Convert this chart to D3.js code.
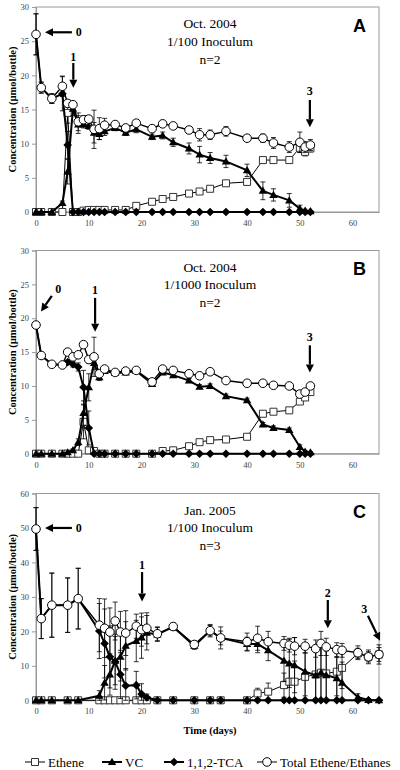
<!DOCTYPE html>
<html><head><meta charset="utf-8">
<script src="https://cdn.jsdelivr.net/npm/d3@7"></script>
<style>body{margin:0;background:#fff}svg{display:block}</style>
</head><body>
<script>
// ---------- DATA ----------
const xTicks = [0,10,20,30,40,50,60];
const yTicksAB = [0,5,10,15,20,25,30];
const yTicksC = [0,10,20,30,40,50,60];

const daysAB = [0,1,3,5,6,7,8,9,10,11,12,13,15,17,19,22,24,26,29,31,33,36,40,43,45,48,50,51,52];

const etheneA = [0,0,0,0,14.5,0,0,0.2,0.3,0.3,0.3,0.3,0.3,0.3,0.9,1.5,1.9,2.2,2.7,3.0,3.4,4.2,4.4,7.6,7.6,7.6,9.4,8.8,9.3];
const etheneErrA = [0,0,0,0,1.5,0,0,0,0,0,0,0,0,0,0.2,0.2,0.2,0.3,0.3,0.3,0.3,0.3,0.4,0.3,0.3,0.3,0.7,0.6,0.5];
const vcA = [0,0,0,1.3,5.9,15.1,12.8,12.8,12.6,11.6,11.4,11.8,12.3,11.6,12.1,11.0,11.2,10.2,9.3,8.4,7.9,7.4,6.1,3.1,2.5,1.7,0.5,0.2,0.1];
const vcErrA = [0,0,0,0.3,1.8,1.0,1.3,0.5,0.5,1.5,0.8,0.6,0.4,0.4,0.5,0.4,0.5,0.6,0.8,1.2,0.8,0.9,0.9,1.3,0.9,1.0,0.5,0.2,0.1];
const tcaA = [26.0,18.2,16.6,17.3,9.8,0,0,0,0,0,0,0,0,0,0,0,0,0,0,0,0,0,0,0,0,0,0,0,0];
const tcaErrA = [3.0,0.8,0.7,2.5,2.0,0,0,0,0,0,0,0,0,0,0,0,0,0,0,0,0,0,0,0,0,0,0,0,0];
const totalA = [26.0,18.2,16.6,18.4,15.9,15.7,13.2,13.5,13.6,12.1,12.2,12.7,12.8,12.3,13.0,12.2,12.9,12.6,12.0,11.3,11.3,11.8,10.8,10.8,10.1,9.5,10.2,9.5,9.8];
const totalErrA = [3.0,0.8,0.7,1.5,0.5,0.4,1.3,0.6,0.5,2.8,1.6,1.0,0.4,0.5,0.5,0.4,0.5,0.4,0.5,0.9,0.7,0.7,0.4,0.6,0.8,0.8,1.5,0.8,0.8];

const etheneB = [0,0,0,0,0,0,0,4.7,0.5,0.4,0,0,0,0,0,0,0.4,0.5,1.1,1.7,2.0,2.1,2.5,5.9,6.2,6.4,7.7,8.3,9.1];
const etheneErrB = [0,0,0,0,0,0,0,2.5,0,0,0,0,0,0,0,0,0,0,0.2,0.2,0.2,0.2,0.3,0.3,0.3,0.3,0.4,0.4,0.4];
const vcB = [0,0,0,0,0.2,0.5,1.7,6.0,9.8,13.4,11.3,12.2,11.9,12.0,12.2,10.3,12.0,11.6,10.8,9.9,10.0,8.5,7.9,4.3,3.8,3.5,1.0,0.3,0.2];
const vcErrB = [0,0,0,0,0,0.2,0.5,1.8,2.0,1.0,0.5,0.3,0.3,0.3,0.3,0.3,0.3,0.3,0.3,0.3,0.3,0.3,0.3,0.3,0.3,0.3,0.3,0.2,0.1];
const tcaB = [19.0,14.5,13.2,13.1,13.5,13.2,12.8,9.8,3.8,0,0,0,0,0,0,0,0,0,0,0,0,0,0,0,0,0,0,0,0];
const tcaErrB = [0,0.3,0.3,0.3,0.3,0.4,0.6,2.5,2.5,0,0,0,0,0,0,0,0,0,0,0,0,0,0,0,0,0,0,0,0];
const totalB = [19.0,14.5,13.2,13.1,15.0,14.3,14.6,16.1,13.9,14.3,11.8,12.5,12.0,12.2,12.3,10.6,12.5,12.3,11.8,11.5,12.1,10.8,10.4,10.4,10.1,10.0,8.8,9.1,10.0];
const totalErrB = [0.3,0.3,0.3,0.3,0.3,0.3,0.5,0.4,0.5,2.9,0.5,0.3,0.3,0.3,0.3,0.3,0.3,0.3,0.3,0.3,0.3,0.3,0.3,0.3,0.3,0.3,0.3,0.3,0.3];

const daysC = [0,1,3,6,8,12,13,14,15,16,17,19,20,21,23,26,30,33,35,40,42,44,47,48,49,51,53,54,55,57,58,61,63,65];
const etheneC = [0,0,0,0,0,0,0,0,0,0,0,0,0,0,0,0,0,0,0,0,2.0,2.5,4.4,5.4,5.4,6.8,7.5,8.0,7.8,8.3,9.4,13.6,12.6,13.3];
const etheneErrC = [0,0,0,0,0,0,0,0,0,0,0,0,0,0,0,0,0,0,0,0,1.5,2.5,3.5,5,6,7,8,8,8,7,6,1.5,1.5,2];
const vcC = [0,0,0,0,0,1.3,5.1,7.5,11.5,12.6,15.8,17.2,18.2,19.6,19.1,21.3,15.8,20.2,18.1,16.3,16.3,14.5,11.5,10.7,10.2,8.3,7.3,8.0,7.3,6.4,5.1,0.9,0.1,0];
const vcErrC = [0,0,0,0,0,1.5,5,6,7,7,7,6,6,5,2,1,1,1.5,2,2,2.5,3,6,7,8,7,7,8,7,6,6,1,0.3,0];
const tcaC = [49.7,23.7,27.6,27.6,29.5,20.1,16.5,12.6,11.2,7.5,4.2,4.4,1.8,0.8,0,0,0,0,0,0,0,0,0,0,0,0,0,0,0,0,0,0,0,0];
const tcaErrC = [6.2,5.8,9.3,7.9,8.8,8,10,9,8,7,5,4,3,1,0,0,0,0,0,0,0,0,0,0,0,0,0,0,0,0,0,0,0,0];
const totalC = [49.7,23.7,27.6,27.6,29.5,21.8,20.9,19.8,23.0,19.8,19.5,21.5,20.5,20.9,19.3,21.4,16.2,20.2,18.1,17.0,18.0,17.0,16.5,16.0,15.7,15.7,15.0,16.5,15.5,14.7,14.5,13.8,12.6,13.3];
const totalErrC = [6.2,5.8,9.3,7.9,8.8,7.7,8.5,7.0,5.5,6.0,6.5,3.5,4.8,4.5,2.0,1.0,1.0,1.8,3.2,2.5,3.5,3.0,2.0,2.0,2.5,2.0,2.5,3.5,2.5,2.0,2.0,2.0,2.0,2.8];

const seriesNames = ["Ethene","VC","1,1,2-TCA","Total Ethene/Ethanes"];
const panelLetters = ["A","B","C"];
const panelTexts = [["Oct. 2004","1/100 Inoculum","n=2"],["Oct. 2004","1/1000 Inoculum","n=2"],["Jan. 2005","1/100 Inoculum","n=3"]];
// arrows: label, from (day,value) to (day,value), label position (day,value)
const arrowsA = [{t:"0",x1:6.8,y1:26.3,x2:1.7,y2:26.3,lx:8.1,ly:26.3},{t:"1",x1:7.07,y1:21.8,x2:7.07,y2:18.2,lx:7.07,ly:22.7},{t:"3",x1:51.9,y1:16.4,x2:51.9,y2:12.4,lx:51.9,ly:17.7}];
const arrowsB = [{t:"0",x1:3.0,y1:23.3,x2:0.95,y2:21.0,lx:4.2,ly:24.3},{t:"1",x1:11.2,y1:23.0,x2:11.2,y2:18.0,lx:11.2,ly:24.1},{t:"3",x1:51.9,y1:16.0,x2:51.9,y2:12.0,lx:51.9,ly:17.3}];
const arrowsC = [{t:"0",x1:6.8,y1:50,x2:1.7,y2:50,lx:8.1,ly:50},{t:"1",x1:20.1,y1:37.2,x2:20.1,y2:28.7,lx:20.1,ly:39.3},{t:"2",x1:55.3,y1:29.1,x2:55.3,y2:20.9,lx:55.3,ly:31.1},{t:"3",x1:62.9,y1:24.5,x2:65.2,y2:17.3,lx:62.2,ly:26.5}];

// ---------- DRAW ----------
const W = 400, H = 770;
const svg = d3.select("body").append("svg").attr("width",W).attr("height",H);
const serif = "'Liberation Serif','Times New Roman',serif";
const sans = "'Liberation Sans',Arial,sans-serif";
const x = d3.scaleLinear().domain([0,65]).range([36,379]);

const panels = [
  {days:daysAB, eth:etheneA, ethE:etheneErrA, vc:vcA, vcE:vcErrA, tca:tcaA, tcaE:tcaErrA, tot:totalA, totE:totalErrA, top:7, bottom:212, yMax:30, ticks:yTicksAB, arrows:arrowsA},
  {days:daysAB, eth:etheneB, ethE:etheneErrB, vc:vcB, vcE:vcErrB, tca:tcaB, tcaE:tcaErrB, tot:totalB, totE:totalErrB, top:250.5, bottom:453.7, yMax:30, ticks:yTicksAB, arrows:arrowsB},
  {days:daysC, eth:etheneC, ethE:etheneErrC, vc:vcC, vcE:vcErrC, tca:tcaC, tcaE:tcaErrC, tot:totalC, totE:totalErrC, top:493.5, bottom:700.3, yMax:60, ticks:yTicksC, arrows:arrowsC}
];

const shapes = {
  square: "M-3.5,-3.5H3.5V3.5H-3.5Z",
  triangle: "M0,-4.2L4.2,3L-4.2,3Z",
  diamond: "M0,-4.3L4.3,0L0,4.3L-4.3,0Z"
};

function drawMarker(g, type, cx, cy){
  if(type==="circle"){
    g.append("circle").attr("cx",cx).attr("cy",cy).attr("r",4.3).attr("fill","#fff").attr("stroke","#000").attr("stroke-width",1);
  } else if(type==="square"){
    g.append("path").attr("d",shapes.square).attr("transform",`translate(${cx},${cy})`).attr("fill","#fff").attr("stroke","#333").attr("stroke-width",1);
  } else {
    g.append("path").attr("d",shapes[type]).attr("transform",`translate(${cx},${cy})`).attr("fill","#000");
  }
}

panels.forEach((p,pi)=>{
  const y = d3.scaleLinear().domain([0,p.yMax]).range([p.bottom,p.top]);
  const g = svg.append("g");
  g.append("rect").attr("x",x(0)).attr("y",y(p.yMax)).attr("width",x(65)-x(0)).attr("height",y(0)-y(p.yMax))
    .attr("fill","none").attr("stroke","#999").attr("stroke-width",1);
  const yAxis = g.append("g").attr("transform",`translate(${x(0)},0)`)
    .call(d3.axisLeft(y).tickValues(p.ticks).tickSize(4).tickPadding(3).tickFormat(d3.format("d")));
  const xAxis = g.append("g").attr("transform",`translate(0,${y(0)})`)
    .call(d3.axisBottom(x).tickValues(xTicks).tickSize(0).tickPadding(8).tickFormat(d3.format("d")));
  [yAxis,xAxis].forEach(a=>{
    a.select(".domain").attr("stroke","#999");
    a.selectAll(".tick line").attr("stroke","#999");
    a.selectAll("text").attr("font-family",serif).attr("font-size",8.5).attr("fill","#444");
  });
  g.append("text").attr("transform",`translate(16,${(p.top+p.bottom)/2}) rotate(-90)`)
    .attr("text-anchor","middle").attr("font-family",serif).attr("font-weight","bold").attr("font-size",10.5)
    .text("Concentration (µmol/bottle)");

  const series = [
    {v:p.eth, e:p.ethE, m:"square", lw:1},
    {v:p.vc, e:p.vcE, m:"triangle", lw:2},
    {v:p.tca, e:p.tcaE, m:"diamond", lw:2},
    {v:p.tot, e:p.totE, m:"circle", lw:1.4}
  ];
  series.forEach(s=>{
    const sg = g.append("g");
    const pts = p.days.map((d,i)=>({d, v:s.v[i], e:s.e[i]}));
    pts.filter(q=>q.e>0).forEach(q=>{
      const x0 = x(q.d), ya = y(q.v+q.e), yb = y(Math.max(0,q.v-q.e));
      sg.append("line").attr("x1",x0).attr("x2",x0).attr("y1",ya).attr("y2",yb).attr("stroke","#000").attr("stroke-width",0.8);
      [ya,yb].forEach(yy=>sg.append("line").attr("x1",x0-2.5).attr("x2",x0+2.5).attr("y1",yy).attr("y2",yy).attr("stroke","#000").attr("stroke-width",0.8));
    });
    sg.append("path").datum(pts).attr("fill","none").attr("stroke","#000").attr("stroke-width",s.lw)
      .attr("d",d3.line().x(q=>x(q.d)).y(q=>y(q.v)));
    pts.forEach(q=>drawMarker(sg,s.m,x(q.d),y(q.v)));
  });

  panelTexts[pi].forEach((t,i)=>{
    g.append("text").attr("x",210).attr("y",p.top+21+i*17.8).attr("text-anchor","middle")
      .attr("font-family",serif).attr("font-size",13.5).text(t);
  });
  g.append("text").attr("x",359.5).attr("y",p.top+24.5).attr("text-anchor","middle")
    .attr("font-family",sans).attr("font-weight","bold").attr("font-size",18).text(panelLetters[pi]);

  p.arrows.forEach(a=>{
    const X1=x(a.x1), Y1=y(a.y1), X2=x(a.x2), Y2=y(a.y2);
    const ang = Math.atan2(Y2-Y1, X2-X1), hl=8, hw=4;
    const bx = X2 - hl*Math.cos(ang), by = Y2 - hl*Math.sin(ang);
    g.append("line").attr("x1",X1).attr("y1",Y1).attr("x2",bx).attr("y2",by).attr("stroke","#000").attr("stroke-width",2.2);
    const px = -Math.sin(ang), py = Math.cos(ang);
    g.append("path").attr("d",`M${X2},${Y2}L${bx+hw*px},${by+hw*py}L${bx-hw*px},${by-hw*py}Z`).attr("fill","#000");
    g.append("text").attr("x",x(a.lx)).attr("y",y(a.ly)+4).attr("text-anchor","middle")
      .attr("font-family",serif).attr("font-weight","bold").attr("font-size",12).text(a.t);
  });
});

svg.append("text").attr("x",210).attr("y",734).attr("text-anchor","middle").attr("font-family",serif)
  .attr("font-weight","bold").attr("font-size",10.5).text("Time (days)");

const legendMarkers = ["square","triangle","diamond","circle"];
const legendX = [35,112,174,267];
const lg = svg.append("g");
seriesNames.forEach((n,i)=>{
  const cx = legendX[i], cy = 762;
  lg.append("line").attr("x1",cx-10).attr("x2",cx+10).attr("y1",cy).attr("y2",cy).attr("stroke","#000").attr("stroke-width",i===0||i===3?1:2);
  drawMarker(lg, legendMarkers[i], cx, cy);
  lg.append("text").attr("x",cx+13).attr("y",cy+4.5).attr("font-family",serif).attr("font-size",13).text(n);
});
</script>
</body></html>
